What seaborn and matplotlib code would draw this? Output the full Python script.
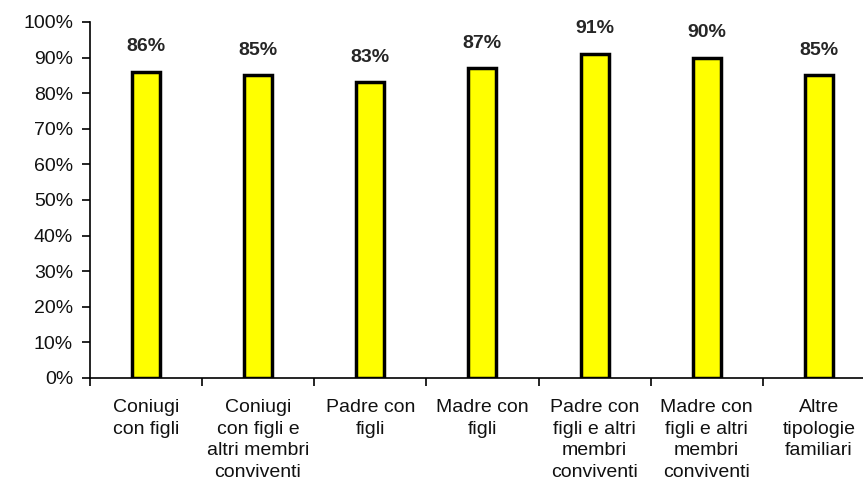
import numpy as np
import pandas as pd
import matplotlib
matplotlib.use("Agg")
import matplotlib.pyplot as plt
import seaborn as sns
from matplotlib.ticker import FixedLocator, PercentFormatter

# data
categories = [
    "Coniugi\ncon figli",
    "Coniugi\ncon figli e\naltri membri\nconviventi",
    "Padre con\nfigli",
    "Madre con\nfigli",
    "Padre con\nfigli e altri\nmembri\nconviventi",
    "Madre con\nfigli e altri\nmembri\nconviventi",
    "Altre\ntipologie\nfamiliari",
]
values = [86, 85, 83, 87, 91, 90, 85]

df = pd.DataFrame({"Tipologia": categories, "Quota": values})

sns.set_style("ticks")
plt.rcParams["font.family"] = ["Liberation Sans", "DejaVu Sans"]

fig = plt.figure(figsize=(8.63, 4.83), dpi=100)
ax = fig.add_axes([0.104, 0.2174, 0.91, 0.7371])

sns.barplot(data=df, x="Tipologia", y="Quota", color="#FFFF00", edgecolor="black",
            linewidth=2.5, width=0.25, saturation=1, ax=ax)

for i, v in enumerate(values):
    ax.annotate(f"{v}%", (i, v), xytext=(0, 12), textcoords="offset points",
                ha="center", va="bottom", fontsize=14, fontweight="bold")

ax.set_ylim(0, 100)
ax.set_xlim(-0.5, len(categories) - 0.5)
ax.set_yticks(np.arange(0, 101, 10))
ax.yaxis.set_major_formatter(PercentFormatter(decimals=0))
ax.xaxis.set_minor_locator(FixedLocator(np.arange(-0.5, len(categories), 1)))
ax.tick_params(axis="x", which="major", length=0, pad=15)
ax.tick_params(axis="x", which="minor", length=6, width=1.2, color="black")
ax.tick_params(axis="y", length=6, width=1.2, color="black", pad=6)
ax.tick_params(labelsize=14, labelcolor="#111111")
for lab in ax.get_xticklabels():
    lab.set_linespacing(1.36)
ax.set_xlabel("")
ax.set_ylabel("")
sns.despine(ax=ax)
for side in ["left", "bottom"]:
    ax.spines[side].set_linewidth(1.2)
    ax.spines[side].set_color("black")

fig.savefig("out.png", dpi=100)
